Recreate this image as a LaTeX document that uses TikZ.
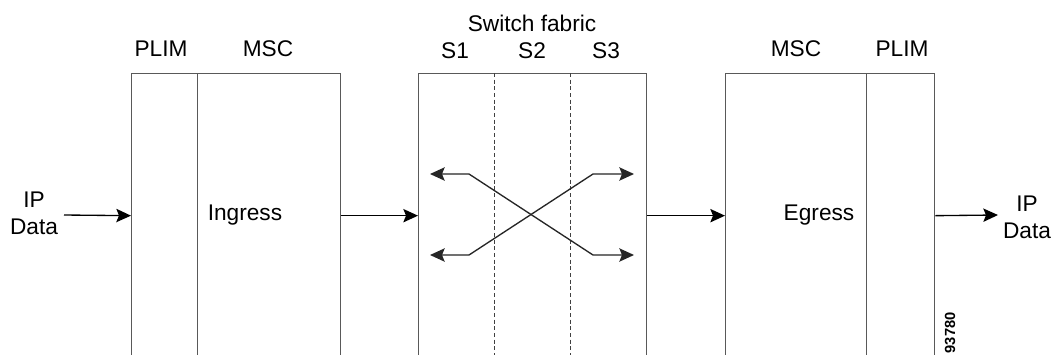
\documentclass[tikz,border=0pt]{standalone}
\usepackage{fontspec}
\setmainfont{Liberation Sans}
\usetikzlibrary{arrows.meta}

\tikzset{every picture/.style={line width=0.75pt}}
\tikzset{
  unit/.style={draw=black!65, line width=1pt, anchor=north west, inner sep=0pt, minimum height=213pt},
  flow/.style={-{Stealth[length=11pt,width=10pt,inset=2pt]}, line width=1pt},
  swap/.style={{Stealth[length=11pt,width=10pt,inset=2pt]}-{Stealth[length=11pt,width=10pt,inset=2pt]}, line width=1pt, black!85},
  lbl/.style={inner sep=0.75pt, font=\fontsize{17}{20}\selectfont, align=center}
}

\begin{document}
\begin{tikzpicture}[x=0.75pt,y=0.75pt,yscale=-1,xscale=1]
\clip (0,0) rectangle (1055,354);
\fill[white] (0,0) rectangle (1055,354);

%Boxes
\node (plimL) [unit, minimum width=49.5pt] at (131,73) {};
\node (mscL) [unit, minimum width=107.25pt] at (197,73) {};
\node (fabric) [unit, minimum width=171pt] at (418,73) {};
\node (mscR) [unit, minimum width=105.75pt] at (725,73) {};
\node (plimR) [unit, minimum width=51pt] at (866,73) {};

%Stage borders in the fabric
\draw [black!75, dash pattern={on 3pt off 2pt}] (494,73) -- (494,360) ;
\draw [black!75, dash pattern={on 3pt off 2pt}] (570,73) -- (570,360) ;

%Cross paths
\coordinate (tl) at (430,174);
\coordinate (tr) at (634,174);
\coordinate (bl) at (430,255);
\coordinate (br) at (634,255);
\draw [swap] (tl) -- (469,174) -- (593,255) -- (br) ;
\draw [swap] (bl) -- (469,255) -- (593,174) -- (tr) ;

% Text Node
\node (inL) [lbl] at (34,213) {IP\\Data};
% Text Node
\node (outR) [lbl] at (1027,217) {IP\\Data};

%Data path
\coordinate (src) at (64,215);
\coordinate (snk) at (998,215);
\draw [flow] (src) -- (plimL.west) ;
\draw [flow] (mscL.east) -- (fabric.west) ;
\draw [flow] (fabric.east) -- (mscR.west) ;
\draw [flow] (plimR.east) -- (snk) ;

% Text Node
\node (tPlimL) [lbl] at (161,49) {PLIM};
% Text Node
\node (tMscL) [lbl] at (268,49) {MSC};
% Text Node
\node (tFabric) [lbl] at (532,23) {Switch fabric};
% Text Node
\node (tS1) [lbl] at (455,51) {S1};
% Text Node
\node (tS2) [lbl] at (532,51) {S2};
% Text Node
\node (tS3) [lbl] at (606,51) {S3};
% Text Node
\node (tMscR) [lbl] at (796,49) {MSC};
% Text Node
\node (tPlimR) [lbl] at (902,49) {PLIM};
% Text Node
\node (tIngress) [lbl] at (245,215) {Ingress};
% Text Node
\node (tEgress) [lbl] at (819,215) {Egress};
% Text Node
\node (tFig) [inner sep=0pt, rotate=90, anchor=east, font=\fontsize{11}{12}\selectfont\bfseries] at (950,312) {93780};
\end{tikzpicture}
\end{document}
